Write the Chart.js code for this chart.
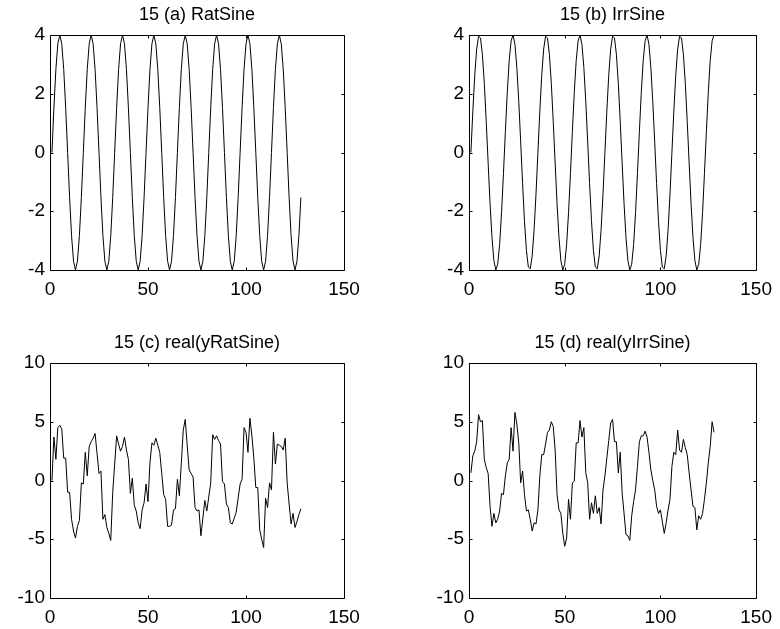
<!DOCTYPE html>
<html>
<head>
<meta charset="utf-8">
<script src="https://cdn.jsdelivr.net/npm/chart.js@4.4.1/dist/chart.umd.min.js"></script>
<style>
  html, body { margin: 0; padding: 0; background: #fff; }
  body { width: 780px; height: 629px; position: relative; overflow: hidden; }
  canvas { position: absolute; }
</style>
</head>
<body>
<canvas id="panelA" width="390" height="300" style="left:0px;top:0px"></canvas>
<canvas id="panelB" width="361" height="300" style="left:419px;top:0px"></canvas>
<canvas id="panelC" width="390" height="301" style="left:0px;top:328px"></canvas>
<canvas id="panelD" width="361" height="301" style="left:419px;top:328px"></canvas>
<script>
// tick labels
const xTicks = [0, 50, 100, 150];
const sineTicks = [-4, -2, 0, 2, 4];
const specTicks = [-10, -5, 0, 5, 10];

// 15 (a) RatSine, samples n = 1..128
const ratSine = [
  0, 1.53, 2.83, 3.7, 4, 3.7, 2.83, 1.53, 0, -1.53, -2.83, -3.7, -4, -3.7, -2.83, -1.53,
  0, 1.53, 2.83, 3.7, 4, 3.7, 2.83, 1.53, 0, -1.53, -2.83, -3.7, -4, -3.7, -2.83, -1.53,
  0, 1.53, 2.83, 3.7, 4, 3.7, 2.83, 1.53, 0, -1.53, -2.83, -3.7, -4, -3.7, -2.83, -1.53,
  0, 1.53, 2.83, 3.7, 4, 3.7, 2.83, 1.53, 0, -1.53, -2.83, -3.7, -4, -3.7, -2.83, -1.53,
  0, 1.53, 2.83, 3.7, 4, 3.7, 2.83, 1.53, 0, -1.53, -2.83, -3.7, -4, -3.7, -2.83, -1.53,
  0, 1.53, 2.83, 3.7, 4, 3.7, 2.83, 1.53, 0, -1.53, -2.83, -3.7, -4, -3.7, -2.83, -1.53,
  0, 1.53, 2.83, 3.7, 4, 3.7, 2.83, 1.53, 0, -1.53, -2.83, -3.7, -4, -3.7, -2.83, -1.53,
  0, 1.53, 2.83, 3.7, 4, 3.7, 2.83, 1.53, 0, -1.53, -2.83, -3.7, -4, -3.7, -2.83, -1.53
];

// 15 (b) IrrSine
const irrSine = [
  0, 1.41, 2.63, 3.52, 3.96, 3.9, 3.34, 2.35, 1.06, -0.36, -1.74, -2.89, -3.68, -4, -3.8, -3.13, -2.05, -0.71,
  0.71, 2.05, 3.13, 3.8, 4, 3.68, 2.89, 1.74, 0.36, -1.06, -2.35, -3.34, -3.9, -3.96, -3.52, -2.63, -1.41,
  0, 1.41, 2.63, 3.52, 3.96, 3.9, 3.34, 2.35, 1.06, -0.36, -1.74, -2.89, -3.68, -4, -3.8, -3.13, -2.05, -0.71,
  0.71, 2.05, 3.13, 3.8, 4, 3.68, 2.89, 1.74, 0.36, -1.06, -2.35, -3.34, -3.9, -3.96, -3.52, -2.63, -1.41,
  0, 1.41, 2.63, 3.52, 3.96, 3.9, 3.34, 2.35, 1.06, -0.36, -1.74, -2.89, -3.68, -4, -3.8, -3.13, -2.05, -0.71,
  0.71, 2.05, 3.13, 3.8, 4, 3.68, 2.89, 1.74, 0.36, -1.06, -2.35, -3.34, -3.9, -3.96, -3.52, -2.63, -1.41,
  0, 1.41, 2.63, 3.52, 3.96, 3.9, 3.34, 2.35, 1.06, -0.36, -1.74, -2.89, -3.68, -4, -3.8, -3.13, -2.05, -0.71,
  0.71, 2.05, 3.13, 3.8, 4
];

// 15 (c) real(yRatSine)
const yRatSineReal = [
  0, 3.7, 1.8, 4.5, 4.7, 4.4, 1.9, 1.9, -1.0, -1.0, -3.3, -4.3, -4.9, -3.9, -3.4, -0.2,
  -0.3, 2.4, 0.4, 2.9, 3.3, 3.6, 4.0, 2.3, 0.6, 0.8, -3.3, -2.9, -4.0, -4.5, -5.1, -1.0,
  1.4, 3.8, 3.1, 2.5, 2.9, 3.7, 2.6, 1.8, -1.1, 0.2, -2.1, -2.6, -3.6, -4.1, -2.5, -1.9,
  -0.3, -1.8, 1.5, 3.2, 3.0, 3.6, 3.0, 2.4, 0.6, -1.2, -1.6, -3.9, -3.9, -3.8, -2.5, -2.4,
  0.1, -1.3, 1.5, 4.3, 5.2, 3.0, 0.9, 0.6, 0.3, -2.3, -2.6, -2.5, -4.7, -3.2, -1.7, -2.6,
  -1.4, -0.2, 3.9, 3.5, 3.8, 3.4, 3.1, -0.1, -0.3, -2.0, -2.3, -3.6, -3.7, -3.2, -2.7, -1.5,
  -0.3, 0.1, 4.5, 4.1, 2.4, 5.3, 3.8, 1.9, -0.6, -0.6, -4.2, -5.0, -5.7, -1.5, -2.3, -0.2,
  -0.8, 4.1, 1.4, 3.1, 3.0, 2.9, 2.6, 3.6, -0.2, -2.0, -3.7, -2.8, -4.0, -3.5, -2.9, -2.4
];

// 15 (d) real(yIrrSine)
const yIrrSineReal = [
  0.65, 2.1, 2.5, 3.3, 5.6, 5.0, 5.1, 1.8, 1.1, 0.6, -2.2, -3.9, -2.8, -3.6, -3.3, -2.6,
  -1.1, -1.2, 0.4, 1.5, 1.8, 4.5, 2.5, 5.8, 4.8, 3.2, -0.2, 0.8, -1.2, -2.6, -2.5, -3.3,
  -4.3, -3.6, -3.7, -2.5, 0.4, 2.2, 2.2, 3.1, 4.1, 4.3, 5.0, 4.6, 2.6, -1.2, -2.5, -2.8,
  -4.5, -5.6, -4.9, -1.6, -3.3, -0.2, -0.05, 3.2, 3.2, 5.1, 3.7, 4.5, 0.65, -0.2, -3.3, -1.9,
  -2.8, -1.3, -2.8, -2.3, -3.7, -0.8, 0.4, 1.9, 3.4, 4.9, 5.2, 3.3, 3.3, 0.65, 2.4, -1.05,
  -2.8, -4.6, -4.7, -5.1, -3.0, -1.8, -0.8, 1.2, 3.3, 3.8, 3.8, 4.2, 3.7, 2.4, 0.9, 0.0,
  -0.8, -2.2, -2.8, -2.5, -3.5, -4.5, -3.6, -2.5, -1.6, 1.2, 2.4, 2.2, 4.3, 2.6, 2.4, 3.5,
  2.8, 2.2, 0.65, -0.8, -2.2, -2.3, -4.2, -3.0, -3.3, -2.8, -1.6, -0.2, 1.5, 2.9, 5.0, 4.1
];

const fontFamily = "'Liberation Sans', Arial, Helvetica, sans-serif";

// MATLAB style box with inward ticks on all four sides
const boxPlugin = {
  id: 'boxPlugin',
  afterDraw(chart) {
    const ctx = chart.ctx;
    const a = chart.chartArea;
    const xs = chart.scales.x, ys = chart.scales.y;
    const L = Math.round(a.left) + 0.5, R = Math.round(a.right) + 0.5;
    const T = Math.round(a.top) + 0.5, B = Math.round(a.bottom) + 0.5;
    const len = 3;
    ctx.save();
    ctx.strokeStyle = '#000';
    ctx.lineWidth = 1;
    ctx.beginPath();
    ctx.rect(L, T, R - L, B - T);
    xs.ticks.forEach(t => {
      const px = Math.round(xs.getPixelForValue(t.value)) + 0.5;
      ctx.moveTo(px, B); ctx.lineTo(px, B - len);
      ctx.moveTo(px, T); ctx.lineTo(px, T + len);
    });
    ys.ticks.forEach(t => {
      const py = Math.round(ys.getPixelForValue(t.value)) + 0.5;
      ctx.moveTo(L, py); ctx.lineTo(L + len, py);
      ctx.moveTo(R, py); ctx.lineTo(R - len, py);
    });
    ctx.stroke();
    ctx.restore();
  }
};

function makePanel(canvasId, title, values, yTicks, padRight, xAxisHeight) {
  const points = values.map((v, i) => ({ x: i + 1, y: v }));
  const ctx = document.getElementById(canvasId).getContext('2d');
  new Chart(ctx, {
    type: 'line',
    data: {
      datasets: [{
        data: points,
        borderColor: '#000',
        borderWidth: 1,
        pointRadius: 0,
        tension: 0,
        fill: false
      }]
    },
    options: {
      responsive: false,
      animation: false,
      events: [],
      layout: { padding: { left: 0, top: 0, right: padRight, bottom: 0 } },
      plugins: {
        legend: { display: false },
        tooltip: { enabled: false },
        title: {
          display: true,
          text: title,
          fullSize: false,
          color: '#000',
          font: { family: fontFamily, size: 18, weight: 'normal', lineHeight: 1 },
          padding: { top: 6, bottom: 11 }
        }
      },
      scales: {
        x: {
          type: 'linear',
          min: xTicks[0],
          max: xTicks[xTicks.length - 1],
          afterBuildTicks: s => { s.ticks = xTicks.map(v => ({ value: v })); },
          afterFit: s => { s.height = xAxisHeight; },
          grid: { display: false, drawTicks: false },
          border: { display: false },
          ticks: {
            color: '#000',
            font: { family: fontFamily, size: 19 },
            padding: 8,
            maxRotation: 0,
            autoSkip: false
          }
        },
        y: {
          type: 'linear',
          min: yTicks[0],
          max: yTicks[yTicks.length - 1],
          afterBuildTicks: s => { s.ticks = yTicks.map(v => ({ value: v })); },
          afterFit: s => { s.width = 50; },
          grid: { display: false, drawTicks: false },
          border: { display: false },
          ticks: {
            color: '#000',
            font: { family: fontFamily, size: 19 },
            padding: 5,
            autoSkip: false
          }
        }
      }
    },
    plugins: [boxPlugin]
  });
}

makePanel('panelA', '15 (a) RatSine', ratSine, sineTicks, 46, 30);
makePanel('panelB', '15 (b) IrrSine', irrSine, sineTicks, 17, 30);
makePanel('panelC', '15 (c) real(yRatSine)', yRatSineReal, specTicks, 46, 31);
makePanel('panelD', '15 (d) real(yIrrSine)', yIrrSineReal, specTicks, 17, 31);
</script>
</body>
</html>
